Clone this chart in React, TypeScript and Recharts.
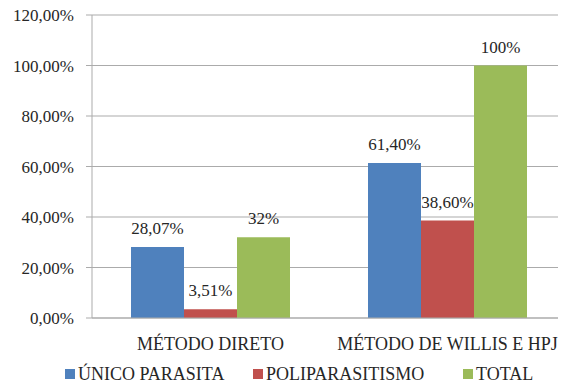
import React from 'react'
import { BarChart, Bar, XAxis, YAxis, CartesianGrid, LabelList, Legend } from 'recharts'

const categories = ['MÉTODO DIRETO', 'MÉTODO DE WILLIS E HPJ']
const unicoParasita = [28.07, 61.4]
const poliparasitismo = [3.51, 38.6]
const total = [32, 100]
const unicoLabels = ['28,07%', '61,40%']
const poliLabels = ['3,51%', '38,60%']
const totalLabels = ['32%', '100%']
const yTicks = [0, 20, 40, 60, 80, 100, 120]

const series = [
    { key: 'unico', label: 'labelUnico', name: 'ÚNICO PARASITA', color: '#4F81BD' },
    { key: 'poli', label: 'labelPoli', name: 'POLIPARASITISMO', color: '#C0504D' },
    { key: 'total', label: 'labelTotal', name: 'TOTAL', color: '#9BBB59' },
]

const data = categories.map((name, i) => ({
    name,
    unico: unicoParasita[i],
    poli: poliparasitismo[i],
    total: total[i],
    labelUnico: unicoLabels[i],
    labelPoli: poliLabels[i],
    labelTotal: totalLabels[i],
}))

const font = 'Liberation Serif'
const textColor = '#262626'
const gridColor = '#ABABAB'

// legend items sit where the original put them
const legendLeft = [65, 253, 463]

function renderLegend() {
    return (
        <div style={{ position: 'relative', height: 26, fontSize: 18, color: textColor }}>
            {series.map((s, i) => (
                <div key={s.key} style={{ position: 'absolute', left: legendLeft[i], top: 6, height: 20, display: 'flex', alignItems: 'center', whiteSpace: 'nowrap' }}>
                    <span style={{ display: 'inline-block', width: 10, height: 10, background: s.color, marginRight: 3 }} />
                    <span style={{ lineHeight: '20px' }}>{s.name}</span>
                </div>
            ))}
        </div>
    )
}

export default function App() {
    return (
        <div style={{ margin: '-8px 0 0 -8px' }}>
            <style>{`#root, #root * { font-family: "Liberation Serif", serif !important; }`}</style>
            <BarChart
                width={566}
                height={384}
                data={data}
                margin={{ top: 15, right: 0, left: 0, bottom: 0 }}
                barCategoryGap={39}
                barGap={0}
            >
                <CartesianGrid vertical={false} stroke={gridColor} />
                <XAxis
                    dataKey="name"
                    height={40}
                    tickLine={false}
                    axisLine={{ stroke: gridColor }}
                    tickMargin={13}
                    tick={{ fontFamily: font, fontSize: 18, fill: textColor }}
                />
                <YAxis
                    width={92}
                    domain={[0, 120]}
                    ticks={yTicks}
                    interval={0}
                    tickSize={6}
                    tickMargin={12}
                    axisLine={{ stroke: gridColor }}
                    tickLine={{ stroke: gridColor }}
                    tickFormatter={(v: number) => v.toFixed(2).replace('.', ',') + '%'}
                    tick={{ fontFamily: font, fontSize: 17, fill: textColor }}
                />
                <Legend verticalAlign="bottom" content={renderLegend} />
                {series.map((s) => (
                    <Bar key={s.key} dataKey={s.key} name={s.name} fill={s.color} isAnimationActive={false}>
                        <LabelList
                            dataKey={s.label}
                            position="top"
                            offset={13}
                            fontFamily={font}
                            fontSize={17}
                            fill={textColor}
                        />
                    </Bar>
                ))}
            </BarChart>
        </div>
    )
}
